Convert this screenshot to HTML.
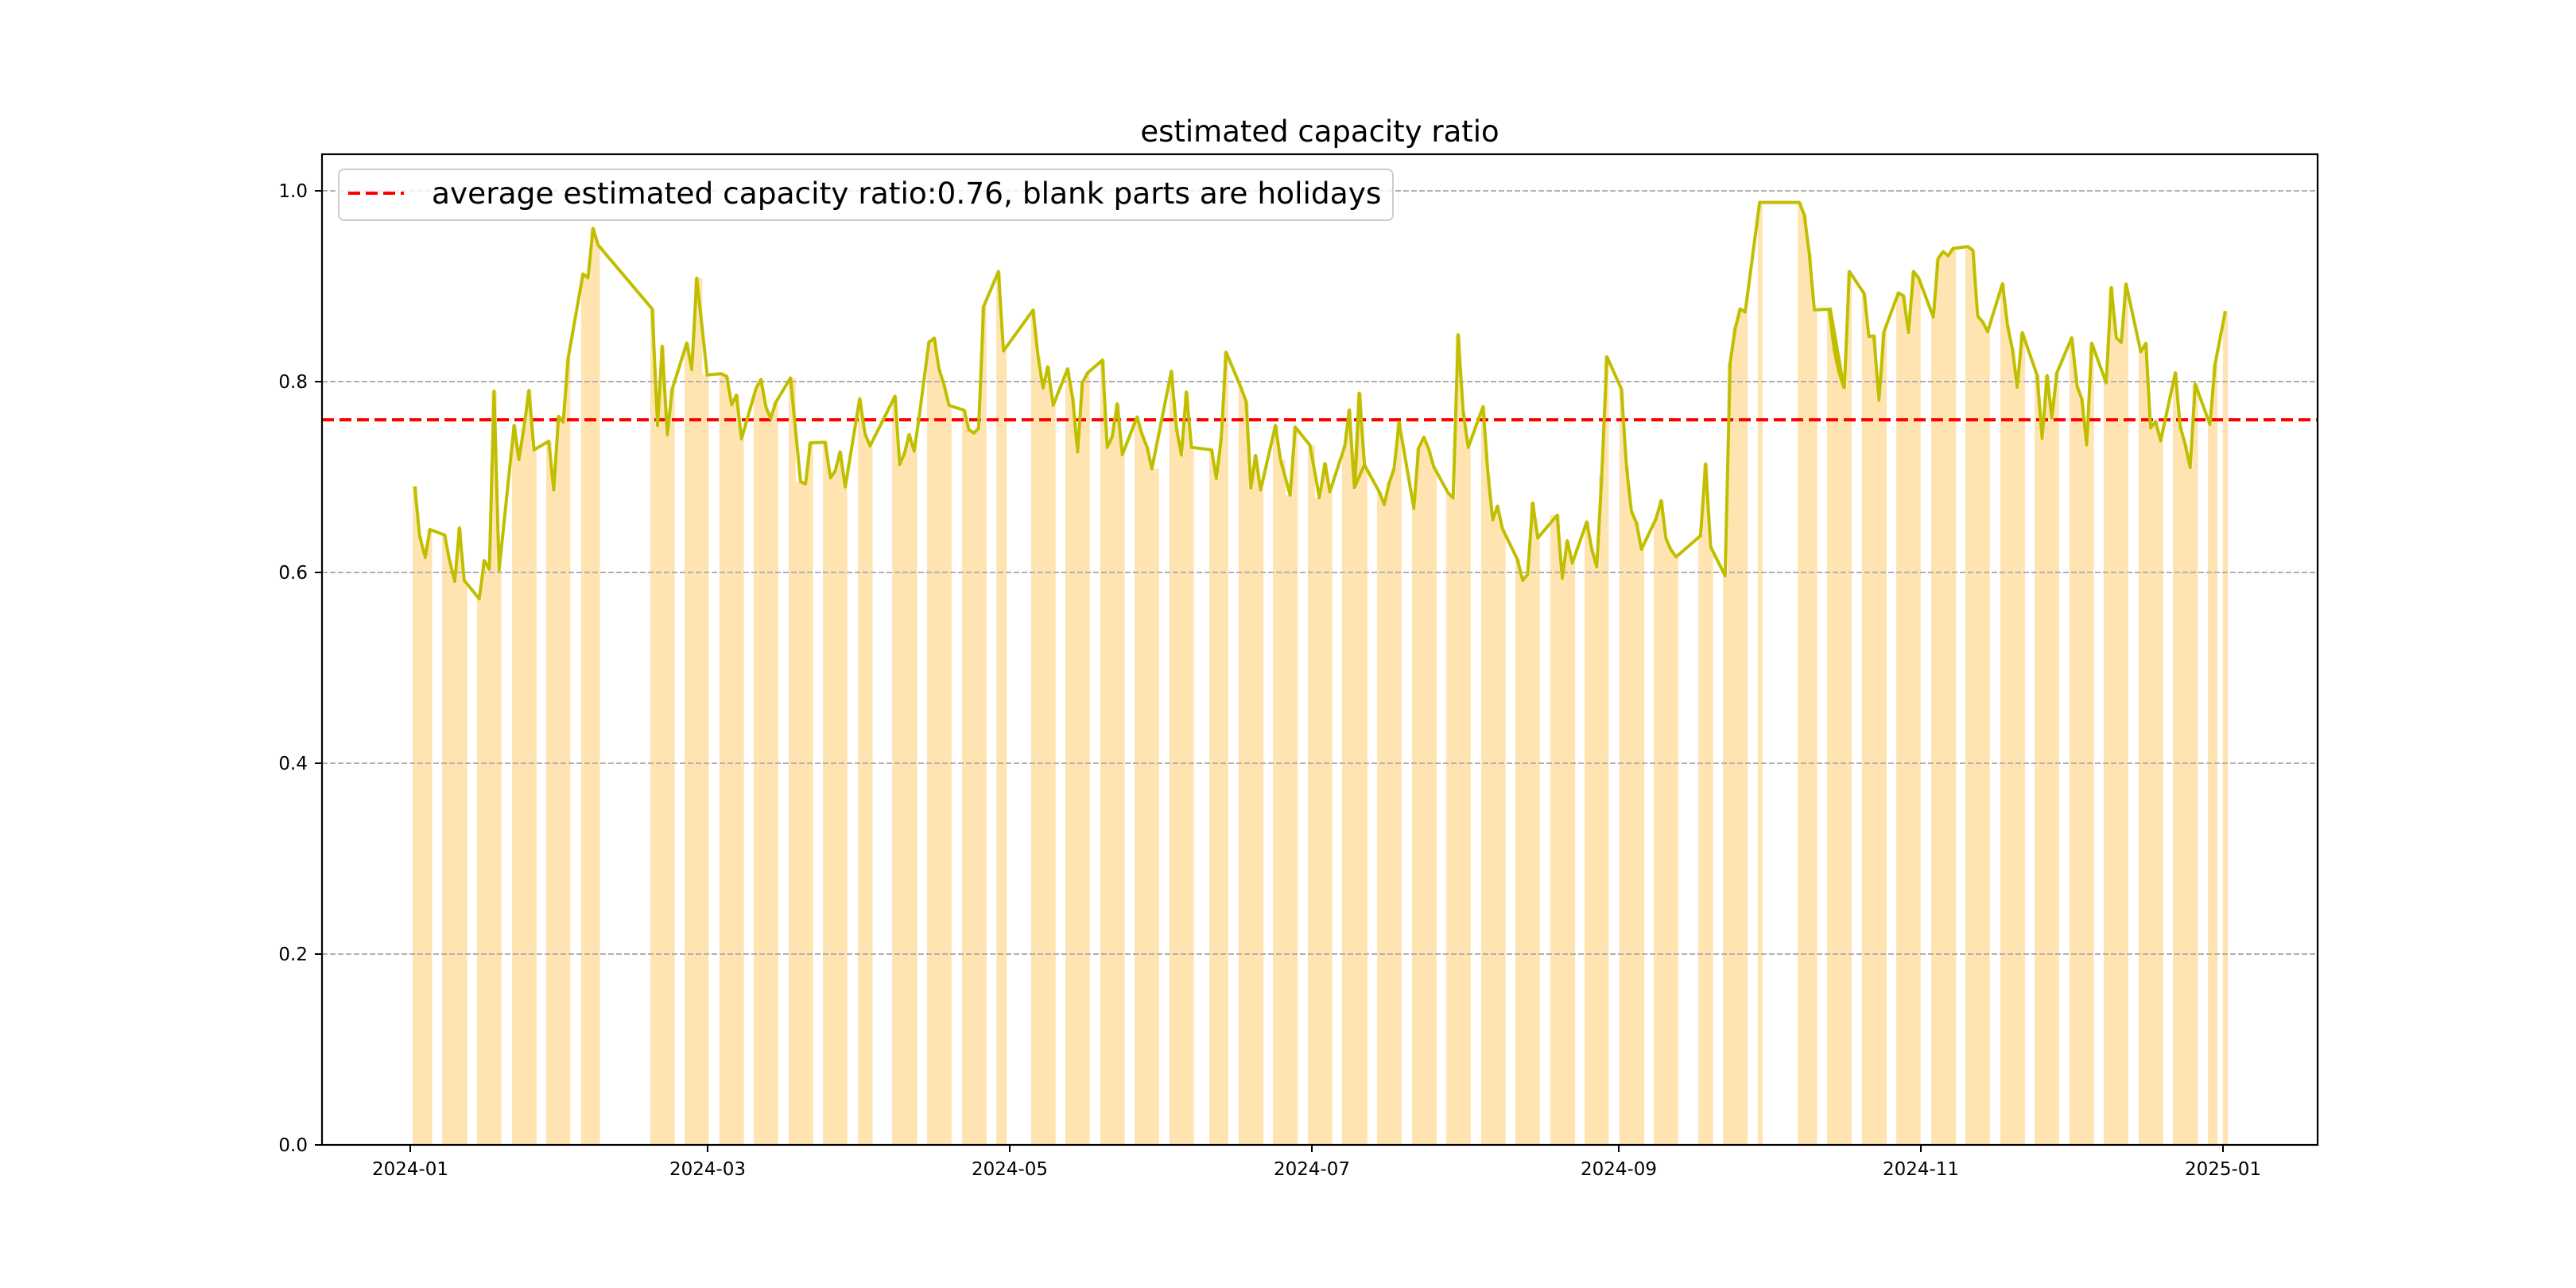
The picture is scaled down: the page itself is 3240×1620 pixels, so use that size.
<!DOCTYPE html>
<html><head><meta charset="utf-8"><style>
html,body{margin:0;padding:0;background:#fff;}
svg{display:block;font-family:"DejaVu Sans","Liberation Sans",sans-serif;}
</style></head><body>
<svg id="s" width="3240" height="1620" viewBox="0 0 3240 1620" xmlns="http://www.w3.org/2000/svg">
<rect width="3240" height="1620" fill="#fff"/>
<defs><clipPath id="bc"></clipPath></defs>
<g id="bars" fill="#FFE4B2" clip-path="url(#bc)"></g>
<g stroke="#b0b0b0" stroke-width="2" stroke-dasharray="7,3">
<line x1="405" x2="2915" y1="240" y2="240"/><line x1="405" x2="2915" y1="480" y2="480"/>
<line x1="405" x2="2915" y1="720" y2="720"/><line x1="405" x2="2915" y1="960" y2="960"/>
<line x1="405" x2="2915" y1="1200" y2="1200"/>
</g>
<line x1="405" x2="2915" y1="528" y2="528" stroke="#ff0000" stroke-width="4" stroke-dasharray="15,7"/>
<polyline id="ln" fill="none" stroke="#bfbf00" stroke-width="4" stroke-linejoin="round"/>
<rect x="405" y="194" width="2510" height="1246" fill="none" stroke="#000" stroke-width="2.2"/>
<g id="ticks" stroke="#000" stroke-width="2"></g>
<g font-size="23" fill="#000" text-anchor="middle" id="xl">
<text x="516" y="1478">2024-01</text><text x="890" y="1478">2024-03</text>
<text x="1270" y="1478">2024-05</text><text x="1650" y="1478">2024-07</text>
<text x="2036" y="1478">2024-09</text><text x="2416" y="1478">2024-11</text>
<text x="2796" y="1478">2025-01</text>
</g>
<g font-size="23" fill="#000" text-anchor="end">
<text x="387" y="248">1.0</text><text x="387" y="488">0.8</text><text x="387" y="728">0.6</text>
<text x="387" y="968">0.4</text><text x="387" y="1208">0.2</text><text x="387" y="1448">0.0</text>
</g>
<text x="1660" y="178" font-size="37" text-anchor="middle">estimated capacity ratio</text>
<rect x="426" y="213" width="1326" height="64" rx="7" fill="#fff" fill-opacity="0.8" stroke="#cccccc" stroke-width="2"/>
<line x1="438" x2="508" y1="243" y2="243" stroke="#ff0000" stroke-width="4" stroke-dasharray="15,7"/>
<text x="543" y="256" font-size="37.5">average estimated capacity ratio:0.76, blank parts are holidays</text>
</svg>
<script>
(function(){
var NS="http://www.w3.org/2000/svg";
function el(t,a,p){var e=document.createElementNS(NS,t);for(var k in a)e.setAttribute(k,a[k]);p.appendChild(e);return e;}
var hx=2.529, vy=2.613;
var bars={500:[[48,110],[142,222],[253,331],[364,443],[473,550],[584,644],[804,882],[913,990],[1024,1102],[1133,1211],[1244,1322],[1353,1431],[1464,1511]],
1100:[[56,136],[167,245],[278,356],[387,420],[498,576],[607,685],[718,796],[827,905],[938,1016],[1065,1125],[1158,1237],[1267,1346],[1378,1456],[1487,1568]],
1700:[[0,50],[81,159],[192,271],[301,379],[412,490],[521,599],[632,711],[741,818],[852,931],[961,1039],[1103,1150],[1181,1260],[1292,1307],[1419,1481],[1512,1568]],
2300:[[0,73],[106,185],[215,293],[326,405],[435,513],[546,625],[655,733],[766,844],[875,953],[986,1064],[1095,1175],[1206,1237],[1254,1270]]};
var cp=document.getElementById('bc');
for(var k in bars){var x0=+k;bars[k].forEach(function(b){var a=x0+b[0]/hx,c=x0+b[1]/hx;el('rect',{x:a.toFixed(1),y:194,width:(c-a).toFixed(1),height:1246},cp);});}
var L={500:[[55,1128],[70,1290],[88,1362],[103,1270],[150,1288],[165,1370],[182,1440],[197,1265],[212,1437],[260,1498],[276,1372],[292,1400],[307,815],[323,1403],[371,928],[386,1040],[402,935],[418,813],[434,1008],[481,980],[497,1140],[512,898],[527,917],[543,705],[590,430],[606,443],[622,280],[638,335],[810,545],[827,928],[842,668],[858,958],[874,808],[920,657],[936,744],[952,444],[985,762],[1030,758],[1047,767],[1063,860],[1078,828],[1094,972],[1140,807],[1156,777],[1172,868],[1187,905],[1203,852],[1250,772],[1282,1113],[1298,1120],[1313,985],[1360,983],[1377,1100],[1392,1078],[1408,1015],[1424,1130],[1470,840],[1487,956],[1503,995]],
1100:[[65,832],[80,1056],[95,1020],[110,958],[126,1012],[142,900],[173,654],[190,641],[205,743],[221,795],[237,862],[285,878],[300,942],[316,953],[331,937],[347,537],[394,422],[410,683],[504,549],[520,700],[536,805],[551,735],[568,862],[614,742],[630,838],[646,1015],[661,787],[678,755],[725,713],[740,1000],[756,965],[772,857],[788,1024],[835,900],[850,955],[867,1000],[882,1070],[944,750],[960,936],[976,1025],[992,818],[1008,1000],[1072,1008],[1087,1102],[1103,970],[1118,687],[1164,800],[1182,850],[1197,1133],[1212,1027],[1228,1140],[1275,928],[1291,1040],[1322,1157],[1338,933],[1385,993],[1415,1166],[1433,1053],[1448,1146],[1496,995],[1510,877],[1526,1132],[1542,822],[1558,1057]],
1700:[[10,1130],[25,822],[41,1058],[88,1146],[104,1188],[120,1116],[135,1070],[151,918],[198,1200],[213,1003],[230,967],[245,1005],[261,1063],[307,1150],[323,1166],[339,630],[355,885],[371,1000],[418,866],[434,1090],[449,1238],[464,1193],[480,1268],[527,1367],[544,1437],[560,1418],[576,1183],[592,1298],[654,1223],[670,1430],[686,1307],[702,1380],[748,1245],[764,1335],[780,1392],[796,1090],[812,702],[858,808],[874,1060],[890,1210],[906,1248],[922,1335],[968,1235],[985,1175],[1000,1300],[1015,1335],[1032,1360],[1110,1290],[1126,1055],[1142,1327],[1188,1422],[1204,722],[1220,610],[1236,545],[1252,555],[1298,195],[1424,195],[1440,236],[1456,365],[1472,548],[1519,546],[1535,678],[1550,752],[1566,803]],
2300:[[5,545],[18,672],[34,750],[50,803],[66,422],[113,495],[128,635],[144,634],[160,845],[176,620],[222,492],[238,502],[254,622],[270,422],[286,443],[333,572],[348,380],[364,357],[380,370],[396,346],[443,340],[459,353],[474,568],[490,588],[506,620],[522,565],[553,462],[569,600],[585,680],[600,802],[616,623],[663,763],[679,970],[695,764],[710,903],[726,755],[773,640],[790,798],[805,840],[821,992],[837,658],[883,788],[899,475],[915,640],[931,655],[946,463],[993,686],[1009,658],[1024,936],[1040,915],[1056,978],[1103,755],[1118,930],[1134,990],[1150,1066],[1166,792],[1213,925],[1229,727],[1262,552]]};
var pts=[],P=[];[500,1100,1700,2300].forEach(function(x0){L[x0].forEach(function(p){var X=x0+p[0]/hx,Y=180+p[1]/vy;P.push([X,Y]);pts.push(X.toFixed(1)+","+Y.toFixed(1));});});
document.getElementById('ln').setAttribute('points',pts.join(' '));
var g=document.getElementById('bars');
P.forEach(function(p,i){
  var l=i>0?Math.max((P[i-1][0]+p[0])/2,p[0]-40):p[0]-3.6;
  var r=i<P.length-1?Math.min((P[i+1][0]+p[0])/2,p[0]+40):p[0]+3.6;
  el('rect',{x:(l-0.3).toFixed(1),y:p[1].toFixed(1),width:(r-l+0.6).toFixed(1),height:(1440-p[1]).toFixed(1)},g);});
var t=document.getElementById('ticks');
[516,890,1270,1650,2036,2416,2796].forEach(function(x){el('line',{x1:x,x2:x,y1:1440,y2:1449},t);});
[240,480,720,960,1200,1440].forEach(function(y){el('line',{x1:396,x2:405,y1:y,y2:y},t);});
})();
</script>
</body></html>
